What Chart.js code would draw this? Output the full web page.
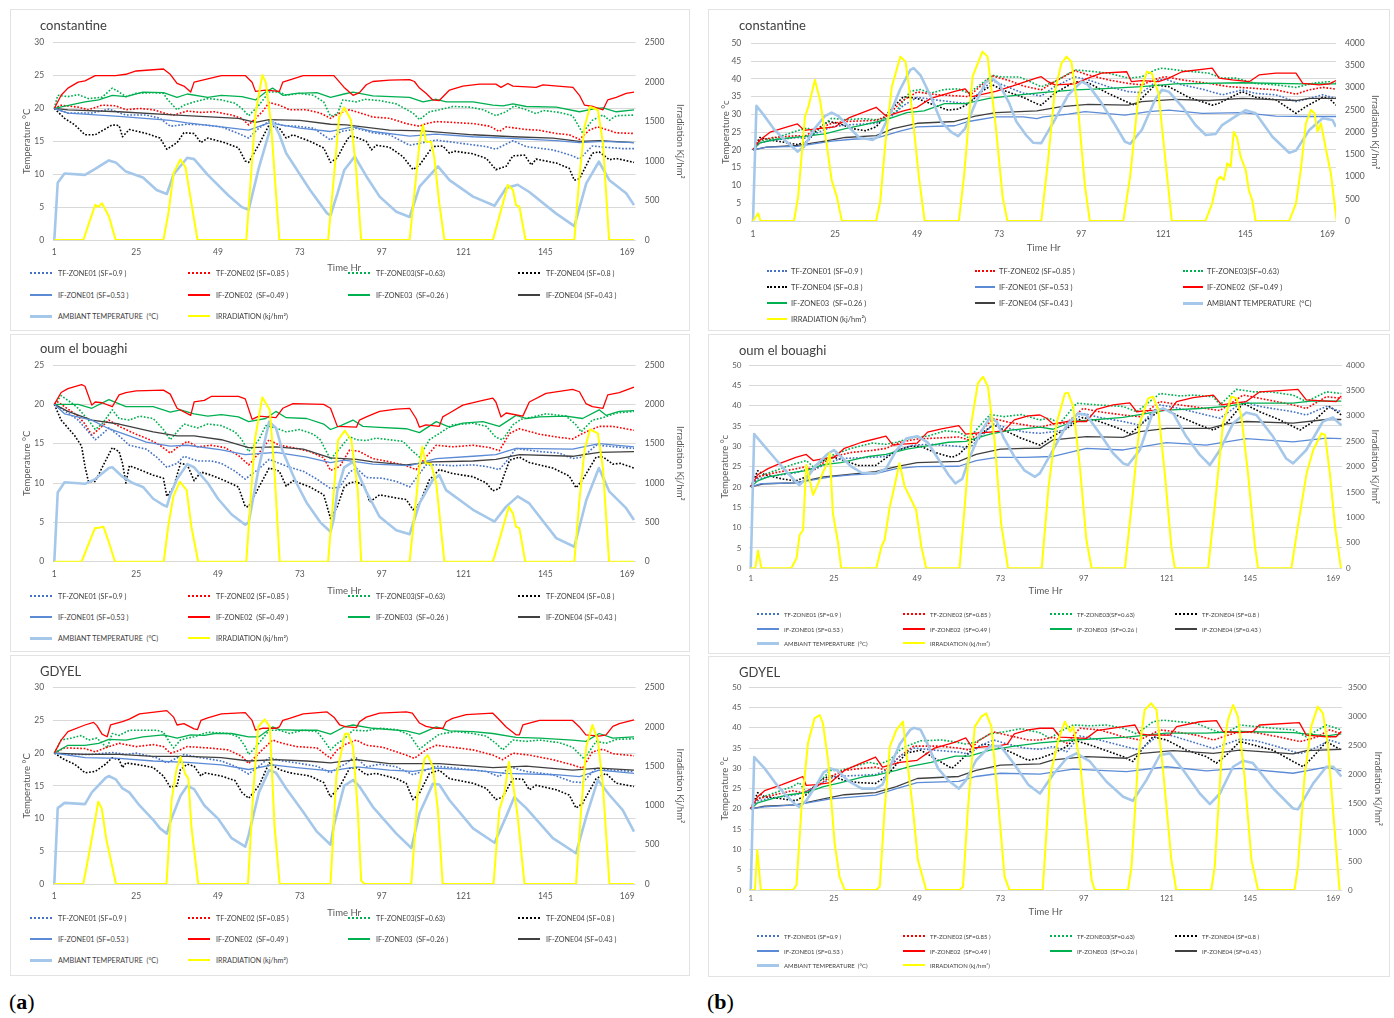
<!DOCTYPE html>
<html><head><meta charset="utf-8">
<script src="https://cdn.jsdelivr.net/npm/chart.js@4.4.1/dist/chart.umd.min.js"></script>
<style>
html,body{margin:0;padding:0;background:#fff;}
body{width:1394px;height:1018px;position:relative;overflow:hidden;font-family:Lato,"Open Sans",sans-serif;}
.box{position:absolute;border:1px solid #e3e3e3;box-sizing:border-box;}
.ttl{position:absolute;font-size:13px;color:#404040;line-height:16px;white-space:nowrap;z-index:3;}
canvas{position:absolute;z-index:2;}
.lg{position:absolute;white-space:pre;color:#404040;display:flex;align-items:center;height:10px;z-index:3;}
.lg i{display:inline-block;height:0;}
.tag{position:absolute;font-family:"Liberation Serif","DejaVu Serif",serif;font-size:22px;color:#000;}
</style></head>
<body>
<div class="tag" style="left:9px;top:989px;">(<b>a</b>)</div>
<div class="tag" style="left:707px;top:989px;">(<b>b</b>)</div>
<script>
// ---------- shared labels ----------
const X_TICKS = [1, 25, 49, 73, 97, 121, 145, 169];
const SERIES_NAMES = ["TF-ZONE01 (SF=0.9 )", "TF-ZONE02 (SF=0.85 )", "TF-ZONE03(SF=0.63)", "TF-ZONE04 (SF=0.8 )",
  "IF-ZONE01 (SF=0.53 )", "IF-ZONE02  (SF=0.49 )", "IF-ZONE03  (SF=0.26 )", "IF-ZONE04 (SF=0.43 )",
  "AMBIANT TEMPERATURE  (°C)", "IRRADIATION (kj/hm²)"];
const PANEL_TITLES = ["constantine", "oum el bouaghi", "GDYEL", "constantine", "oum el bouaghi", "GDYEL"];
const TEMP_MAX = [30, 25, 30, 50, 50, 50];
const IRR_MAX = [2500, 2500, 2500, 4000, 4000, 3500];

// ---------- (a) constantine : [hour, value] ----------
const A1_TF01 = [[1,20],[5,19.3],[12,19.3],[17,19.9],[22,19.0],[28,19.0],[32,18.5],[35,17.3],[40,17.6],[45,17.5],[50,17.2],[55,16.2],[58,15.5],[61,17],[64,18.1],[68,17.4],[72,17.3],[77,17],[82,15.2],[85,16.5],[87.6,16.7],[89.6,17],[94.4,16.3],[99.3,16],[105.2,14.4],[108.1,14.7],[113,15.2],[118.8,14.8],[127.7,14.2],[130.5,13.8],[135.5,15.1],[139.4,14.2],[147.2,13.7],[153,12.8],[155,12.3],[158.8,14.3],[162.8,14.1],[167.7,13.9],[171,13.9]];
const A1_TF02 = [[1,20],[3,20.5],[8,20.2],[11,19.8],[15,20.5],[19,20.4],[22,19.8],[26,20],[30,19.8],[34,19.2],[36,19],[40,19.6],[44,19.4],[48,19.5],[53,19],[56,18.5],[58,17.5],[62,19.5],[64,20.9],[67,20.5],[70,19.8],[75,19.8],[79,19.3],[82,18.5],[84.7,19.3],[87.6,19.8],[91.4,19.2],[94.4,18.7],[99.3,18.5],[104.2,17.7],[108.1,17.3],[110,17.7],[113,18],[117,17.9],[123.8,17.7],[128.7,17.3],[131.5,16.5],[133.5,17.2],[139.4,16.8],[143,16.7],[148.2,16.2],[152,16],[155,15.3],[157.9,16.7],[160.3,17.2],[162.8,16.8],[165.8,16.3],[171,16.2]];
const A1_TF03 = [[1,20],[2,22],[5,21.8],[8,22.1],[11,21.5],[15,21.7],[18,23.1],[20,22.5],[22,21.8],[25,22.3],[30,22.4],[33,22.3],[34,21.5],[37,19.8],[39,20.5],[42,21],[46,21.5],[50,21.3],[54,20.8],[56,20],[58,18.9],[61,20.5],[64,22.5],[67,22.5],[69,22],[73,22.3],[77,22],[80,21],[82,18.8],[84,19.2],[85.6,21.3],[89.6,21],[92,21.4],[96.4,21.2],[101.3,20.7],[106.2,19.3],[108.1,18.3],[111,19.5],[113.9,19.8],[117.9,20.3],[123,20.2],[126.8,19.8],[130.5,18.9],[133.5,19.5],[135.9,20.4],[139.4,19.8],[142.3,19.2],[144.3,19.7],[149.1,19.4],[153,18.9],[155.9,16.3],[158.8,18.2],[161.9,19],[163.8,18.2],[165.8,18.9],[171,19]];
const A1_TF04 = [[1,20],[4,18.5],[7,17.5],[10,16],[13,16],[18,17.5],[20,17.4],[21,15.7],[23,16.8],[28,16.2],[32,15.5],[34,13.8],[37,14.8],[39,16.3],[42,16.2],[44,14.8],[46,15.5],[51,14.8],[55,14],[57,12],[58,11.8],[61,14.5],[64,17.5],[67,17],[69,15.5],[71,16],[76,15],[80,14],[82,11.8],[84,12.5],[86,14.5],[87.6,15.8],[89.6,15.6],[92.5,15],[94,13.7],[95.4,14.4],[99.3,14.1],[103.2,12.7],[106.2,10.7],[108.1,11.4],[112,14.2],[114.9,14.3],[116.9,13.2],[118.5,13.5],[123.8,13.1],[127.7,12.4],[130.5,10.7],[133.5,11.2],[135.5,12.8],[138.9,12.9],[140.9,11.4],[142.3,12.3],[148.2,11.7],[152,10.9],[153.5,9.1],[155,9.3],[158.8,13.2],[160.8,13.4],[163.8,12.2],[165.8,12.4],[171,11.8]];
const A1_IF01 = [[1,20],[5,19.3],[20,18.8],[35,18.2],[40,17.8],[50,17.2],[58,16.7],[64,17.8],[73,17],[82,16.5],[88.6,17.2],[94.4,16.5],[105.2,15.8],[113,16.1],[123.8,15.7],[133.5,15.5],[148.2,15.1],[155,14.8],[161.9,15],[171,14.8]];
const A1_IF02 = [[1,20],[3,22],[5,23.1],[8,24],[10,24.2],[13,25],[19,25],[22,25.2],[25,25.7],[33,26],[35,25.2],[37,23.8],[39,23.4],[41,22.5],[42,24],[46,24.5],[50,25],[57,25],[59,24],[60,22.6],[63,22.8],[67,22.6],[68,24],[71,24.5],[74,25],[83,25],[86,23.2],[88.6,22],[90.5,22.4],[92.5,23.6],[94.4,24.1],[99.3,24.3],[105.2,24.4],[106.6,24.1],[108.1,23.1],[110,22.3],[112,21.3],[113.9,21.2],[116.9,22.8],[120.8,23.4],[125.7,23.7],[130.5,23.7],[132,23.2],[134,23.8],[135.5,23.4],[142.3,23.2],[144.3,23.6],[153.1,23.2],[155,22],[156.5,20.5],[159,20.3],[161.9,19.8],[163.3,21.3],[165.8,21.7],[168.7,22.3],[171,22.5]];
const A1_IF03 = [[1,20],[10,21],[14,21.3],[18,22],[22,21.8],[27,22.5],[33,22.4],[37,21.7],[40,22.2],[46,21.7],[50,22],[56,21.8],[60,21.3],[63,22.5],[65,23.1],[68,22],[72,22.3],[78,22.4],[82,21.7],[86,22.2],[88.6,22.5],[94.4,21.9],[105.2,21.7],[109.1,21],[113,21.4],[116,21],[123.8,21],[129.6,20.5],[132.6,20.4],[135.5,20.7],[139.4,20.3],[148.2,20.2],[155,19.5],[159.9,20],[161.9,20.1],[165.8,19.5],[171,19.8]];
const A1_IF04 = [[1,20],[5,19.8],[20,19.5],[37,19],[55,18.5],[60,17.9],[64,18.3],[73,18.2],[82,17.6],[86.6,17.5],[99.3,16.7],[109,16.6],[123.8,16],[135.5,15.7],[147.2,15.5],[155,15],[160.9,15.1],[171,14.8]];
const A1_AMB = [[1,0],[2,8.7],[4,10.1],[10,9.9],[13,10.8],[17,12.1],[19,11.8],[22,10.4],[27,9.5],[31,7.6],[34,7],[36,10],[40,12.5],[42,12.3],[46,9.9],[52,6.8],[56,5],[58,4.6],[61,11],[65,18.1],[67,16],[69,13.2],[76,7.6],[81,4.05],[82,3.75],[84,7],[86,10.6],[89.1,12.7],[92.5,9.7],[96.4,6.6],[101.3,4.3],[105.2,3.5],[108.1,8.1],[113.5,11.2],[116.9,9.1],[123.8,6.6],[130.1,5.2],[133.5,7.9],[136.9,8.4],[140.3,7.3],[148.1,4.05],[153.5,2.1],[157,8.6],[160.7,11.9],[163.8,9.1],[168.7,7.1],[171,5.3]];
const A1_IRR = [[1,0],[9.5,0],[13,445],[14,420],[15,465],[17,300],[19,0],[33,0],[34.5,350],[36,850],[38,1020],[39.5,920],[40.5,650],[43,0],[57.3,0],[58.5,700],[60,1600],[62,2090],[63,2000],[64.5,1500],[66,600],[67,0],[81.3,0],[83,800],[84.5,1550],[86,1680],[88,1520],[89.5,900],[91,0],[105.2,0],[108.1,1225],[109.1,1457],[110,1245],[111.5,1245],[112.4,1056],[113.9,464],[115.4,0],[129.6,0],[131.5,296],[134,697],[135.5,633],[136.4,443],[137.4,422],[139.2,0],[153.5,0],[155,802],[156.5,1436],[158.1,1689],[160.4,1647],[161.9,1225],[163.7,0],[171,0]];

// ---------- (a) oum el bouaghi ----------
const A2_TF01 = [[1,20],[3,19.5],[8,18],[11,16.5],[13,15.5],[15,16.2],[17,17],[20,16],[23,14.8],[28,14.3],[31,13.3],[34,12],[37,12.5],[39,13.4],[43,12.8],[47,12.8],[50,12.5],[54,11.5],[57,10.5],[61,11.8],[64,13],[67,12.5],[70,12],[74,11.5],[78,10.5],[82,9.3],[84.7,9.5],[87.6,11.4],[89.6,11.9],[92.5,10.7],[97.3,10.6],[101.3,10.2],[105.2,9.5],[110,12.3],[113.9,12.3],[117.8,12.2],[123.8,12.3],[127.7,12.1],[131.5,11.7],[133.5,12.7],[136.4,14.4],[143.3,14],[149.1,13.8],[153,13.1],[155.9,13.3],[159.9,14.8],[162.8,14.7],[171,14.4]];
const A2_TF02 = [[1,20],[2,20.3],[8,18.5],[10,17.5],[12,16.1],[15,17.2],[17,18],[20,17.2],[25,16.2],[29,15.5],[32,14.8],[35,13.8],[37,14.5],[40,15.3],[43,14.6],[47,14.8],[51,14.5],[55,13.5],[58,12.3],[61,13.8],[64,15.5],[67,14.8],[71,14.5],[76,14],[80,13.2],[82,11.6],[84.7,12.1],[87.6,14.2],[90.5,14],[94.4,13.1],[99.3,12.7],[104.2,12.2],[107.1,11.7],[110,13.3],[113,14.8],[117.8,14.6],[123.8,14.8],[128.7,14.5],[131.5,14.1],[134.5,16.3],[137.4,16.9],[143.3,16.2],[149.1,15.8],[153,15.6],[155.9,16.3],[160.8,17.2],[164.8,17.2],[171,16.7]];
const A2_TF03 = [[1,20],[3,21.1],[6,20.2],[8,19.5],[11,18],[13,16.8],[15,17.5],[18,19.3],[20,18.2],[23,18],[26,18.5],[30,18.2],[33,16.8],[35,15.5],[37,16.5],[39,17.5],[43,17],[46,17.5],[50,17.3],[54,16.5],[56,15.5],[58,14],[61,15.5],[63,17.3],[66,17],[69,16.5],[73,16.8],[77,16.2],[79,15.5],[82,13],[84.7,14.4],[87.6,15.9],[89.6,15.5],[92.5,15.4],[95.4,15.7],[99.3,15.5],[103.2,15.3],[106.2,14],[108.1,13.3],[111,15.5],[113.9,16.3],[117.8,17.4],[123.8,17.6],[127.7,17.2],[130.5,15.8],[132.5,15.5],[135.5,17.4],[137.9,18.1],[141.3,18.4],[145.2,18.8],[151.1,18.5],[154,17.4],[155.5,16.5],[158.8,18],[161.9,18.3],[165.8,18.9],[171,19.1]];
const A2_TF04 = [[1,20],[3,18],[7,16],[9,14.7],[10,12.1],[11,10.2],[13,10.2],[16,12.8],[18,14.5],[20,14],[21,12.5],[22,10],[23,12.2],[26,11.7],[30,11],[33,10.6],[34,8.3],[36,9.5],[38,12.5],[40,12.3],[42,10.3],[44,11.4],[47,11],[51,10.3],[55,9.5],[57,7],[58,7],[61,9.5],[64,11.9],[67,11.5],[69,9.6],[71,10.3],[76,9.5],[80,8.5],[82,5.5],[84,7],[86,9.5],[87.6,10],[89.6,10.2],[92,9.5],[93.5,7.6],[96.4,8.5],[101.3,8.1],[104.2,7.9],[106.2,6.6],[108.1,7.4],[111,10.4],[113.9,11.7],[117.8,11.2],[123.8,10.8],[127.7,10],[129.6,9],[131.5,9.3],[134.5,12.9],[137.4,13.3],[140.3,12.6],[147.2,11.9],[152,10.9],[154,9.4],[155.9,10.4],[159.9,13.3],[162,13.3],[164.8,12.4],[167,12.5],[171,11.9]];
const A2_IF01 = [[1,20],[4,18.8],[12,18],[17,16.9],[23,16],[28,15.2],[35,14.7],[40,14.8],[50,14.2],[57,13.6],[66,13.9],[75,13.3],[82,12.6],[86,12.9],[94.4,12.4],[105.2,12.2],[113,13.1],[123.8,13.4],[130.5,13.6],[136.4,14.4],[153,14.3],[160.8,15],[171,14.6]];
const A2_IF02 = [[1,20],[3,21.5],[5,22],[9,22.5],[10,22.3],[12,19.9],[13,20.3],[15,20.2],[18,19.7],[20,21.2],[22,21.5],[25,21.7],[33,21.8],[35,21.3],[37,19.5],[41,18.6],[42,20.3],[45,20.5],[47,21],[55,21],[57,20.7],[59,18.1],[61,18.5],[66,18.3],[68,19.5],[71,20.1],[80,20],[82,19.5],[84,17.2],[89.6,17.1],[90.5,18],[92.5,18.4],[96.4,19.1],[101.3,19.4],[105.2,19.5],[107.1,18.2],[108.1,17.1],[110,17.4],[113.9,17.2],[114.9,18.4],[116.9,18.9],[120.8,19.9],[125.7,20.4],[129.6,20.8],[130.5,20.3],[132,18.4],[133.5,18.9],[138.4,18.5],[140.3,20.3],[145.2,21.4],[153,21.9],[155,21.6],[156.9,20.1],[158.8,19.7],[161.9,19.5],[163.3,21.2],[166.7,21.5],[171,22.2]];
const A2_IF03 = [[1,20],[8,20],[12,19.5],[17,20.6],[22,19.7],[30,19.7],[35,19],[38,19.3],[42,18.8],[46,18.5],[50,18.7],[55,18.4],[58,17.8],[63,18.2],[66,19.1],[69,18.3],[75,18.2],[80,17.5],[82,16.8],[85,17.3],[88.6,18],[91.5,17.2],[95,17.1],[104.2,16.9],[108.1,16.4],[113,17.8],[116.9,17.1],[120.8,17.6],[126.7,17.8],[131.5,17.2],[136.4,18.6],[139.4,18.2],[143.3,18.4],[151.1,18.5],[155.9,18.2],[160.8,19.3],[162.8,18.6],[166.7,19.1],[171,19.2]];
const A2_IF04 = [[1,20],[5,19.1],[12,18],[20,17.5],[30,16.5],[37,16],[42,16],[50,15.5],[58,14.5],[66,14.6],[74,14.3],[82,13.2],[89.6,13],[94.4,12.7],[104.2,12.3],[112,12.7],[123.8,12.8],[130.5,13],[137.4,13.6],[153,13.4],[160.8,13.9],[171,14]];
const A2_AMB = [[1,0],[2,8.8],[4,10.1],[10,9.9],[13,10.5],[17,11.9],[18,12],[21,10.8],[24,10],[27,9.5],[30,8],[33,7.2],[34,7],[35,8.5],[37,10.5],[40,12.4],[42,12],[46,10],[49,8],[53,6],[57,4.7],[58,5],[61,12],[64,17.8],[66,17],[68,14],[72,10],[75,7.5],[79,5],[82,3.8],[83,5.5],[84,9],[86,12],[88.6,12.7],[92.5,8.9],[96.4,5.7],[101.3,4],[105.2,3.5],[108.1,7.4],[112,10.4],[113.9,11],[115.9,9.1],[123.8,6.6],[130.1,5.1],[133.5,7],[136.9,8.3],[140.3,7.4],[148.2,3],[153.5,1.9],[157,7.8],[160.7,11.9],[163.8,8.9],[168.7,6.8],[171,5.3]];
const A2_IRR = [[1,0],[9,0],[12.9,424],[14.4,436],[15.4,445],[16.8,275],[18.8,0],[33.1,0],[34.4,445],[35.9,826],[37.8,1017],[39.8,911],[41.2,445],[43.2,0],[57.3,0],[59.8,1547],[62,2089],[64.2,1928],[65.6,1123],[67.1,0],[81.3,0],[84.2,1547],[86.2,1665],[88.1,1547],[90,911],[91,0],[105.2,0],[108.1,1208],[108.9,1462],[109.9,1250],[111.5,1241],[113,996],[115.4,0],[129.6,0],[131.5,275],[134.3,699],[135.5,614],[136.4,445],[137.4,424],[139.1,0],[153.5,0],[155,784],[156.5,1419],[158.1,1682],[160.4,1631],[161.9,1186],[163.7,0],[171,0]];

// ---------- (a) GDYEL ----------
const A3_TF01 = [[1,20],[5,19.8],[12,19.8],[18,20.1],[22,19.8],[25,20],[31,19.3],[34,18.5],[39,19.8],[44,19.3],[50,18.8],[54,18],[58,16.8],[61,18],[64,19.3],[68,18.8],[72,18.5],[78,18],[82,17],[85,18],[86.6,18.4],[89.1,19.5],[92.5,17.9],[96.4,18.3],[101.3,17.9],[106.2,16.7],[110,17.4],[113,18],[118.8,17.7],[127.7,17.2],[131.5,16.4],[134.5,17.9],[139.4,17.2],[147.2,16.7],[153,15.6],[155.9,15.5],[159.9,17.7],[164.8,17.4],[171,17.2]];
const A3_TF02 = [[1,20],[4,20.8],[10,20.7],[13,20.2],[17,21],[20,21.5],[25,21],[30,21.3],[33,21],[35,20],[37,20.3],[40,21],[46,20.8],[52,20.5],[56,19.5],[58,18.4],[62,20.5],[65,22],[68,21.5],[72,21],[78,20.8],[82,19.2],[84,20.5],[86.6,21.4],[89.6,22],[92.5,21.2],[97.3,20.9],[104.2,19.7],[106.6,19.2],[110,20.5],[113,21.2],[117.8,20.9],[123.8,20.5],[129.6,19.7],[132.5,19],[135.5,20],[140.3,19.7],[147.2,19],[153,18.2],[155.9,17.7],[158.8,20.2],[161.9,20.6],[164.8,19.9],[171,19.6]];
const A3_TF03 = [[1,20],[3,22],[6,22.3],[9,22.7],[11,22],[13.5,22.3],[15,21.5],[16.5,20.8],[18,23],[20,22.7],[23,23.5],[31,23.5],[33,23.2],[35,21.5],[36,20.8],[38,22],[40,22.3],[42,22.5],[46,23.2],[52,23],[55,22.5],[57,21],[58,19.8],[61,21.5],[64,23.5],[67,23.5],[70,23],[74,23.5],[78,23.3],[80,22],[82,20.5],[84,21.5],[85.6,22],[88.6,23.5],[92.5,23.4],[96.4,23.8],[101.3,23.6],[105.2,22.8],[108.1,20.6],[111,21.8],[113.9,22.9],[118.8,23.3],[123.8,23],[127.7,22.6],[130.5,21.5],[132.5,20.5],[135.5,22],[139.4,21.8],[143.3,22],[149.1,21.6],[153,20.9],[156.4,19.1],[159.9,21.8],[162.8,21.5],[165.8,22.1],[171,22.2]];
const A3_TF04 = [[1,20],[4,19],[7,18.3],[10,17],[13,17.2],[16,18.3],[18,19.3],[20,19],[21,17.8],[22,18.5],[26,18.2],[30,17.8],[33,16.5],[35,14.8],[37,15],[38,17.5],[40,18.3],[42,18],[44,16.5],[45,17],[50,16.5],[54,15.8],[56,14],[58,13.1],[61,15],[64,18.5],[67,17.5],[70,17],[76,16.5],[80,15.5],[82,13.3],[84.7,14.9],[87.6,17.7],[89.6,17.8],[92.5,16.7],[95.4,16.9],[101.3,16.1],[104.2,15.4],[106.2,12.9],[108.1,13.9],[111,16.9],[113.9,17.4],[116.9,16.1],[123.8,15.4],[127.7,14.6],[130.5,12.9],[132.5,13.3],[135.5,16.1],[138.4,16],[140.3,14.4],[142.3,15.1],[148.2,14.4],[152,13.6],[154,11.6],[155.9,12.3],[159.9,16.1],[162.8,16.9],[165.8,15.4],[171,14.9]];
const A3_IF01 = [[1,20],[10,19.3],[20,19.2],[30,18.8],[40,18.6],[50,18.2],[58,17.5],[65,18.2],[72,17.8],[82,17.3],[89.6,17.9],[99.3,17.4],[106.2,17.2],[113,17.7],[123.8,17.4],[133.5,16.9],[148.1,16.7],[155,16.4],[160.8,17.4],[171,16.9]];
const A3_IF02 = [[1,20],[3,22],[5,23.3],[10,24.3],[12.5,24.7],[13.5,24.2],[15,22.9],[16.5,22.5],[17.5,24.3],[21,24.8],[23,25.2],[26,26],[34,26.5],[36,25.5],[37,24.3],[39,24.5],[42,23.7],[43,23.6],[44,25],[46,25.4],[50,26],[57,26.2],[59,25],[60,23.5],[62,23.8],[66,23.8],[67,24],[68,25],[70,25.3],[74,26],[81,26.3],[83,25.5],[84.7,24.3],[86.6,24],[89.6,23.9],[90.5,24.8],[92.5,25.5],[96.4,26.1],[104.2,26.3],[106,26.1],[108.1,24.6],[110,24.1],[113,23.8],[115,23.8],[115.9,24.8],[117.8,25.3],[121.8,25.9],[129.6,26.1],[131.5,25.1],[133.5,24],[136.4,22.8],[137.4,22.8],[138.4,24.3],[143.3,25],[153,25],[155,24],[156.9,22.8],[160.8,22.6],[162.8,22.8],[164.8,24.1],[166.7,24.5],[171,25.1]];
const A3_IF03 = [[1,20],[5,21.2],[10,21.2],[14,21.5],[17,22.1],[22,22],[27,22.5],[33,22.8],[37,22.3],[41,22.8],[45,22.7],[48,23],[53,23],[58,22.5],[61,22.5],[65,24],[67,23.6],[72,23.5],[78,23.5],[82,22.9],[86,24],[88.6,24.3],[94.4,23.8],[104.2,23.4],[108.1,22.9],[113,24],[116.9,23.4],[123.8,23.3],[129.6,23],[136.4,22.4],[143.3,22.3],[153,22],[156.9,21.8],[160.8,23],[164.8,22.3],[171,22.5]];
const A3_IF04 = [[1,20],[10,19.8],[20,19.8],[30,19.5],[40,19.5],[50,19.3],[58,18.8],[66,19],[75,18.8],[82,18.5],[89.6,19],[99.3,18.4],[113.9,18.4],[129.6,17.8],[139.4,18],[153,17.4],[160.8,17.7],[171,17.4]];
const A3_AMB = [[1,0],[2,11.6],[4,12.4],[10,12.2],[12,14],[16,16.2],[17,16.5],[19,16],[21,14.6],[23,14],[26,12],[30,9.8],[32,8.5],[34,7.7],[35,9.5],[38,13.5],[40,15],[42,14.5],[45,12],[49,10],[53,7],[57,5.7],[58,7.5],[61,14],[64,17.4],[66,17],[69,14.6],[74,11],[78,8],[82,6],[83,9],[86,15],[88.6,15.9],[90.5,14.9],[94.4,11.8],[101.3,7.7],[105.7,5.5],[108.1,10.8],[112,15.3],[113.9,15.2],[116.9,12.8],[123.8,8.5],[130.1,6.3],[133.5,10.3],[135.9,13.3],[139.4,11.6],[147.2,7],[154,4.7],[157,10.3],[160.4,15.9],[163.8,13.6],[167.7,11.3],[171,8]];
const A3_IRR = [[1,0],[9.5,0],[11.4,433],[13.9,1048],[14.9,963],[16.3,560],[19.1,0],[33.9,0],[35.4,1069],[36.8,1451],[38,1621],[39.3,1409],[40.3,1345],[41.2,730],[43.2,0],[57.8,0],[59.3,1154],[60.8,2003],[62.7,2097],[64.2,2003],[65.6,730],[67.1,0],[82,0],[83.7,1367],[86.2,1910],[87.1,1918],[88.6,1749],[90,942],[91,40],[92,0],[105.7,0],[107.6,1154],[109.6,1600],[110.5,1642],[112,1494],[113.5,942],[114.9,0],[129.8,0],[131.5,942],[133,1154],[134.3,1558],[135.5,1282],[136.9,857],[138.9,0],[154,0],[155.5,942],[157,1749],[158.8,2024],[160.4,1833],[161.9,1239],[163.8,0],[171,0]];

// ---------- (b) constantine ----------
const B1_TF01 = [[1,20],[3,22],[7,22.8],[14,23.5],[16,23.3],[19,24.5],[24,26.5],[28,27],[37,27.5],[41,29],[45,32.5],[49,34.8],[55,34],[61,33.3],[64,33],[67,36],[71,39.5],[76,37.5],[80,36],[85.3,35.2],[89.2,37.8],[95.1,40.6],[99,39.7],[104.9,37.8],[110.8,36.4],[114.7,36.1],[119.6,39.7],[121.6,39.9],[126.5,38.3],[132.4,37.1],[138.2,35.5],[144.1,36.9],[148,35.9],[153.9,35.5],[159.8,33.6],[163.7,34.5],[167.6,35.5],[171.5,34.5]];
const B1_TF02 = [[1,20],[3,22.8],[7,23.5],[14,24],[16,23.8],[19,25.5],[24,27.5],[28,28],[37,28.3],[40,29.5],[45,34],[49,36.3],[55,35.5],[61,35.2],[64,35],[67,37.5],[71,40.8],[76,39.5],[80,38],[85.3,36.9],[89.2,39.2],[95.1,42.3],[99,41.1],[104.9,39.7],[110.8,38.7],[114.7,38.3],[119.6,40.2],[121.6,40.6],[126.5,39.7],[134.3,38.7],[140.2,37.8],[148,37.3],[153.9,36.9],[159.8,35.7],[163.7,36.9],[167.6,37.6],[171.5,37.1]];
const B1_TF03 = [[1,20],[3,22.5],[8,23.5],[14,25.4],[17,26.2],[19,24.5],[21,26.5],[24,28.9],[28,28.5],[33,28.8],[37,28.5],[40,28.9],[43,31],[47,36.5],[50,37],[53,36],[57,37],[61,37.2],[64,36],[67,38],[71,41],[74,40.5],[79,40.5],[85.3,37.8],[89.2,39.2],[95.1,42.5],[99,42.2],[104.9,41.6],[110.8,40.2],[114.7,40.6],[118.6,42.5],[120.6,43],[126.5,42.3],[134.3,41.6],[138.2,40.2],[142.2,40.2],[148,38.7],[153.9,38.3],[159.8,37.6],[165.6,38.9],[169.6,39.2],[171.5,38.7]];
const B1_TF04 = [[1,20],[3,23.5],[6,22.8],[11,22],[14,21.5],[17,22.5],[20,26],[23,28],[26,27.5],[30,26],[34,25.4],[37,26.5],[41,31],[45,35],[49,34.5],[53,33],[58,31.2],[61,31.5],[64,33],[68,36.5],[71,38.3],[75,36.5],[80,34.8],[84,33],[85.3,32.6],[89.2,35.9],[95.1,39.2],[99,38.9],[104.9,35.9],[110.8,33.3],[112.7,32.6],[118.6,38.3],[122.6,37.8],[128.4,34.8],[135.3,32.6],[137,33],[144.1,36.4],[148,34.8],[153.9,34.1],[159.8,30.3],[162.7,32.2],[167.6,34.8],[169.5,34.5],[171.5,32.6]];
const B1_IF01 = [[1,20],[5,20.8],[14,21],[24,22.5],[30,23],[37,23.3],[44,25.3],[49,26.5],[60,26.8],[64,28],[72,29.3],[80,29.3],[84,28.8],[86,29.3],[93.2,30.1],[98.1,30.8],[109.8,29.8],[116.7,30.8],[122.6,31.2],[132.4,30.3],[144.1,30.5],[153.9,29.5],[163.7,29.4],[171.5,29.4]];
const B1_IF02 = [[1,20],[3,22.8],[6,25],[11,26.5],[14,27.3],[16,25.5],[20,26],[25,26.5],[29,29],[33,30.5],[37,32],[40,29.5],[45,31],[49,32],[53,34.5],[60,36.5],[63,37.2],[65,35],[72,36.5],[77,38],[84,40.3],[85.3,40.6],[87.3,39.2],[89.3,38.3],[95.1,38.6],[99,40.2],[102.9,41.6],[110.3,42],[111.7,39.2],[114.7,39.5],[119.6,39.2],[122.6,40.2],[126.5,42],[135.3,43],[137.3,40.2],[141.2,39.7],[146.1,39.2],[149,41.1],[153.9,41.6],[159.8,41.6],[161.8,38.7],[166.6,38.3],[169.6,38.6],[171.5,39.5]];
const B1_IF03 = [[1,20],[3,22],[8,23],[16,23.8],[22,24.5],[28,26],[33,27],[40,28.5],[46,30.5],[51,31],[57,33],[63,33],[70,34.5],[79,35.5],[85.3,36.1],[95.1,36.9],[101,37.1],[114.7,37.8],[124.5,38.6],[144.1,38.9],[161.8,38.6],[171.5,38.6]];
const B1_IF04 = [[1,20],[5,20.8],[14,21.3],[22,22.5],[28,23.5],[37,24],[42,26],[49,27.5],[60,28],[66,29.5],[72,30.5],[84,31],[85.3,31.2],[91.2,32.2],[99,32.8],[110.8,32.6],[114.7,33.6],[124.5,34.2],[134.3,33.9],[144.1,34.5],[159.8,33.9],[163.7,34.5],[171.5,34.5]];
const B1_AMB = [[1,0],[2,32.4],[4,30],[7,26],[10,23],[13,20.5],[14,19.5],[16,21],[19,26],[22,29.5],[24,30.5],[26,29.5],[29,26.5],[32,23.5],[36,22.8],[38,24],[41,30],[44,37],[47,42.5],[48,43],[50,41],[53,35],[56,28],[59,25],[61,23.9],[63,26],[66,33],[69,39],[71,40.1],[73,38.5],[76,33],[78,28],[81,24],[83,22],[85.3,21.9],[89.2,28.4],[93.2,35.5],[97.1,39.2],[99,38.3],[103,33.1],[106.9,27],[109.8,22.3],[111.3,21.7],[114.7,25.6],[118.6,34.1],[120.6,36.9],[122.6,36.4],[126.5,32.2],[130.4,27],[133.4,24.2],[136.3,24.5],[138.2,27],[142.2,29.5],[145.1,31.2],[148,30.3],[152.9,23.7],[157.8,19.2],[159.8,19.8],[163.7,25.6],[167.6,28.9],[170.5,28.4],[171.5,26.5]];
const B1_IRR = [[1,0],[2.5,173],[3.2,0],[13,0],[14.2,548],[16.2,2349],[17.2,2574],[19.1,3175],[20.6,2724],[22.5,1749],[24,923],[25.5,548],[27,0],[37,0],[38.2,435],[39.7,1749],[41.6,3024],[44.1,3700],[45.6,3587],[47.5,2499],[49.5,998],[51.2,0],[61.2,0],[62.7,998],[65.2,3250],[68.1,3813],[69.6,3700],[72,2124],[74,548],[75.4,0],[85.3,0],[87.3,1373],[89.2,2874],[91.2,3550],[92.7,3700],[94.1,3587],[96.1,2499],[98.1,773],[99.5,0],[109.3,0],[111.3,998],[113.7,2799],[116.2,3362],[117.6,3325],[119.6,2874],[121.6,1373],[123.5,0],[133.3,0],[135.3,398],[136.8,923],[137.7,998],[138.7,923],[139.7,1298],[140.7,1223],[141.6,2011],[142.6,1861],[143.6,1448],[145.1,1148],[146,698],[147,473],[148,0],[157.8,0],[159.8,398],[161.2,1148],[162.7,2199],[164.2,2499],[165.2,2424],[166.1,2011],[167.1,2199],[168.6,1599],[170,1073],[171.7,0]];

// ---------- (b) oum el bouaghi ----------
const B2_TF01 = [[1,20],[3,22],[8,22.8],[14,23.5],[17,24.3],[20,24.5],[23,25.8],[27,27],[36,27.3],[40,27.5],[43,29],[48,30.3],[53,30.5],[56,30.3],[61,30],[64,29.5],[67,32],[71,35.5],[75,34.5],[80,33.5],[84.4,33.2],[88.2,33.6],[91.1,33.9],[96.8,38.1],[101.6,37.1],[108.4,36.1],[113.2,35.2],[119,40.2],[124.7,39.3],[132.4,37.7],[136.3,36.9],[143,41],[147.8,39.8],[157.4,38.5],[161.2,37.7],[167,39.8],[171.3,38.5]];
const B2_TF02 = [[1,20],[3,22.5],[8,23.5],[13,24.3],[17,25],[19,24],[22,26],[25,27.5],[30,28.5],[36,29],[40,29.5],[44,31],[49,31.8],[54,32],[61,32.3],[64,31.5],[67,33.5],[71,36.8],[76,35.8],[82,35],[84.4,34.7],[88.2,35.5],[92.1,35.7],[96.8,39.3],[101.6,38.5],[108.4,37.7],[113.2,37.3],[119,41],[124.7,40.2],[132.4,39.3],[136.3,38.8],[143,42.6],[147.8,41.8],[157.4,40.2],[161.2,39.3],[167,42.2],[171.3,41.8]];
const B2_TF03 = [[1,20],[3,22.5],[8,24],[13,25.5],[17,26.5],[19,25],[22,26.5],[25,28],[30,29.5],[36,30.8],[40,30.5],[43,31],[48,32.2],[52,32.5],[57,33.8],[61,33.5],[64,32],[67,35],[70,37.8],[74,37.3],[79,37.8],[84.4,36.5],[87,36.9],[90.2,35.7],[95,40.6],[100.7,40.2],[108.4,39.8],[112.3,38.5],[119,43],[124.7,42.4],[128.6,42.6],[134.4,42.2],[136.3,40.2],[141,44],[146,43.4],[150.7,43.4],[157.4,42.6],[161.2,41],[167,43.4],[171.3,43]];
const B2_TF04 = [[1,20],[3,24],[5,23],[10,22],[14,21.5],[17,22.5],[20,25.5],[23,27],[25,27.3],[28,26.5],[32,25.3],[37,25.3],[39,26.5],[43,29],[47,30],[50,30],[54,28.5],[59,27.3],[61,28],[64,30.5],[68,33.5],[71,35.3],[74,34],[79,32],[84.4,30.3],[88.2,32.5],[92.1,34.4],[96.8,37.1],[101.6,36.1],[108.4,34],[110.3,33],[115.1,36.5],[119.9,39.3],[124.7,37.3],[130.5,35.2],[134.4,34],[138.2,35.7],[143,40.6],[147.8,38.5],[153.6,36.5],[159.4,34],[163.2,36.1],[167.9,39.8],[171.3,37.7]];
const B2_IF01 = [[1,20],[4,20.8],[14,21],[24,22.5],[30,23],[37,23.3],[43,24.5],[49,25],[61,25.1],[66,26.5],[72,27.3],[80,27.3],[88.2,27.5],[97.8,29.5],[108.4,29.1],[120.9,30.9],[132.4,30.3],[143.9,31.9],[157.4,31.1],[167,32],[171.3,31.9]];
const B2_IF02 = [[1,20],[3,23],[6,24.5],[10,26],[14,27.3],[17,28],[19,26.5],[22,27],[25,27.2],[28,29.5],[33,31],[40,32.5],[42,30.3],[44,30.5],[49,30.8],[52,33.5],[56,34.3],[61,35.1],[63,33],[65,33.2],[70,33.5],[74,33.8],[77,36.5],[81,37.5],[84.4,37.7],[86.3,36.9],[88.2,35.5],[92.1,36.1],[97.8,36.1],[100.7,39.1],[105.5,40.2],[110.3,40.7],[112.3,38.5],[115.1,38.8],[121.9,38.9],[123.8,41],[128.6,42],[134.4,42.6],[136.8,40.2],[140.2,40.6],[143.9,41],[147.8,43.4],[153.6,43.7],[158.8,44],[161.2,41.4],[166,41.2],[169.8,41],[171.3,42.4]];
const B2_IF03 = [[1,20],[3,21.5],[6,22.5],[11,23.3],[17,24],[22,25.5],[27,26],[35,27.5],[40,28],[46,29.3],[51,30],[58,31],[63,31.2],[70,33],[76,34],[84.4,34.7],[88.2,34.2],[94,36.1],[108.4,37.1],[120.9,38.9],[130.5,39.3],[138.2,39.8],[143.9,40.6],[157.4,40.6],[163.1,41.2],[171.3,41.1]];
const B2_IF04 = [[1,20],[5,20.8],[14,21],[22,22.5],[28,23],[37,23.8],[43,25],[49,26],[61,26.3],[66,28],[73,29.3],[80,29.5],[84.4,29.5],[88.2,31.6],[97.8,32.4],[108.4,32.2],[113.2,33.6],[120.9,34.4],[133.4,34.4],[138.2,35.5],[143.9,36.1],[157.4,35.7],[167,36.6],[171.3,36.6]];
const B2_AMB = [[1,0],[2,33],[5,30],[8,27],[11,24],[14,21.3],[15,20.5],[17,22],[20,25.5],[23,28],[25,29.1],[27,27.5],[30,25],[33,23.5],[37,23.3],[40,24.5],[43,29],[46,32],[49,32.5],[52,31],[55,27],[58,23],[60,20.9],[62,22],[64,27],[67,33],[70,37.1],[72,36],[74,32],[77,27.5],[80,24],[83,22.5],[84.4,23.4],[88.2,29.1],[92.1,35.2],[95.4,38.1],[97.8,37.7],[101.6,33.2],[105.5,28.3],[108.4,25.8],[109.8,25.4],[113.2,29.1],[117,38.5],[119.9,39.3],[122.8,38.1],[126.6,32.4],[130.5,27.9],[133.4,25.4],[136.3,29.1],[140.1,35.7],[143.9,38.3],[146.8,37.7],[151.6,32.4],[155.4,27],[157.4,25.8],[161.2,29.1],[166,36.1],[168.9,37.1],[171.3,35.2]];
const B2_IRR = [[1,0],[2.3,0],[3.1,348],[4.1,0],[12.7,0],[14.2,197],[15.1,656],[16.1,754],[17,2033],[19,1443],[20.9,1738],[21.8,1882],[22.8,2033],[23.8,2262],[24.7,1082],[26.2,492],[27.1,0],[37.2,0],[38.7,426],[39.6,557],[41.1,1213],[42,1475],[43.9,2066],[45.4,1606],[47.3,1344],[48.7,1147],[50.2,426],[51.6,0],[61.2,0],[62.7,1213],[64.6,2852],[66.5,3639],[68,3770],[69.4,3574],[71.3,2524],[73.2,885],[75.2,0],[84.9,0],[86.8,1541],[89.2,2852],[91.6,3442],[92.5,3456],[94,3180],[95.9,2000],[97.8,557],[99.3,0],[108.9,0],[110.8,1213],[113.2,2852],[115.6,3344],[117,3377],[118.5,3115],[120.4,1869],[122.3,426],[123.3,0],[132.9,0],[134.8,1213],[137.2,2852],[139.6,3377],[141.1,3344],[142.5,2983],[144.4,1869],[146.4,426],[147.3,0],[156.9,0],[158.9,885],[161.3,1869],[163.2,2328],[165.6,2656],[166.6,2623],[168,1869],[169.5,820],[171.2,0]];

// ---------- (b) GDYEL ----------
const B3_TF01 = [[1,20],[3,22],[8,22.8],[14,23.5],[17,24.3],[21,26],[25,28],[33,28.3],[37,28.5],[40,29.5],[44,33],[48,35],[54,34.5],[61,34],[64,33.5],[67,35.5],[71,37],[75,36],[80,35],[84.4,34.7],[88.2,35.4],[92.1,34.1],[95.9,38],[101.6,37],[108.4,35.5],[113.2,34.5],[119,38.5],[122.8,38],[129.5,36.2],[134.4,34.9],[142,37.2],[146.8,36.8],[153.6,35.2],[159.4,33.6],[164.2,35.2],[168,37],[171.3,36]];
const B3_TF02 = [[1,20],[3,22.5],[8,23.5],[13,24.5],[16,24],[20,25.5],[24,28],[28,29.5],[33,30],[37,30.3],[40,29.5],[44,33],[48,35.5],[55,35.5],[61,35],[64,34.5],[67,37],[71,39],[76,38],[81,37],[84.4,37],[88.2,37.7],[92.1,36.2],[95.9,39.9],[101.6,39.5],[108.4,37.8],[113.2,37],[119,39.5],[122.8,39.1],[129.5,38.2],[134.4,37],[142,39.1],[146.8,38.8],[153.6,37.7],[159.4,36.6],[164.2,37.7],[168,39.5],[171.3,38.5]];
const B3_TF03 = [[1,20],[3,22.5],[8,24],[13,25.5],[15,26.5],[17,24],[20,26],[24,29.5],[27,29.5],[31,30.5],[35,31.5],[38,31],[41,32],[44,34.5],[46,35.5],[50,36.8],[56,37],[60,36.5],[63,36],[66,36.5],[70,38.5],[74,39],[79,39.8],[84.4,38.8],[87.3,37.4],[90.2,39.1],[94,40.7],[98.8,40.5],[103.6,40.7],[108.4,39.9],[112.3,38.5],[117,41.5],[119.9,41.9],[124.7,41.5],[129.5,41.1],[135.3,39.1],[138.2,38.8],[142,40.7],[146.8,40.3],[151.6,39.9],[157.4,39.5],[161.2,37.8],[167,40.7],[171.3,39.5]];
const B3_TF04 = [[1,20],[3,24],[5,23],[10,22.5],[14,22],[17,23.5],[21,27],[24,28.3],[28,27],[32,26.5],[37,26.3],[40,28],[43,31],[46,33.8],[50,34.5],[53,33],[59,30],[61,31.5],[64,34],[68,36],[72,35.5],[76,34],[81,32],[84.4,32.5],[88.2,33.7],[92.1,35.4],[94,37],[98.8,35.8],[108.4,32.9],[111.2,31.7],[114.1,35],[117,37.8],[120.9,37],[126.6,34.5],[132.4,32.9],[135.3,31.3],[138.2,33.3],[142,36.6],[144,36.2],[151.6,34.5],[157.4,31.7],[160.3,30.4],[163.2,32.9],[167,36.6],[171.3,34.5]];
const B3_IF01 = [[1,20],[5,20.5],[14,21],[24,22.5],[37,23.4],[43,25],[49,26.5],[61,26.8],[66,28],[73,28.8],[84.4,28.6],[94,29.8],[109.4,29.2],[120.9,30.4],[132.4,29.4],[142,30],[157.4,28.8],[167,30.3],[171.3,29.4]];
const B3_IF02 = [[1,20],[3,23],[5,24.5],[10,26],[14,27.3],[16,28],[17,25.8],[20,26],[24,26.5],[28,29.5],[32,31],[37,32.8],[39,30.3],[44,31.5],[49,32],[54,35],[60,36.5],[63,37.5],[65,35],[68,35.3],[72,35.5],[75,36],[77,38.5],[81,39.5],[84.4,39.9],[88.2,39.9],[90.2,37.7],[97.8,37.4],[100.7,39.3],[108.4,40.3],[111.8,40.7],[113.2,38.5],[116.1,38.2],[121.9,38.2],[123.8,40.3],[130.5,41.5],[135.3,41.8],[137.2,39.1],[142,38.8],[145.8,39.1],[147.7,40.7],[159.2,41.3],[161.2,38.2],[167,37.8],[169.8,37.8],[171.3,39.1]];
const B3_IF03 = [[1,20],[3,21.5],[7,22.5],[12,23.5],[17,24],[22,25.5],[27,26.5],[34,28],[37,28.3],[43,29.5],[47,30.5],[53,31.5],[60,33],[64,33],[70,34.5],[77,35.5],[84.4,36.3],[94,37],[109.4,37.7],[120.9,38.7],[132.4,38.7],[142,39.1],[157.4,38.8],[167,38],[171.3,38.5]];
const B3_IF04 = [[1,20],[5,20.7],[14,21],[22,22.5],[28,23.5],[37,24],[43,25.5],[49,27.5],[61,28],[66,29.5],[73,30.8],[84.4,31.1],[88.2,32.1],[97.8,32.9],[109.4,32.5],[112.3,33.6],[122.8,34.4],[134.4,33.7],[142,34.5],[157.4,33.6],[161.2,34.4],[171.3,34.7]];
const B3_AMB = [[1,0],[2,32.8],[5,30],[8,26.5],[11,23.5],[14,21],[15,20.5],[17,22],[20,26],[22,29],[24,30],[26,29.5],[29,27],[33,25],[37,25],[39,26],[41,30],[44,36],[47,39.5],[48,40],[50,39.5],[52,36],[55,30],[58,27],[61,25],[63,27],[66,32],[70,35.5],[73,35.5],[77,31],[81,26],[84.4,23.8],[88.2,28.5],[92.1,32.5],[94.9,33.7],[98.8,31.7],[103.6,26.7],[108.4,23],[111.2,22],[115.1,27.1],[119,33.3],[121.9,33.7],[125.7,29.6],[130.5,23.8],[133.4,21.2],[136.3,23.8],[140.1,30.4],[143,31.9],[145.8,31.3],[151.6,25.1],[157.4,20.1],[158.8,19.9],[163.2,26.3],[167,30.4],[169,30.4],[171.3,28]];
const B3_IRR = [[1,0],[2.2,0],[2.9,691],[3.9,0],[13.2,0],[14.2,86],[15.6,1382],[17.5,2533],[19.4,2965],[20.9,3022],[21.8,2879],[23.3,2245],[25.2,806],[26.6,230],[28.1,0],[37.2,0],[38.2,58],[39.6,1382],[41.1,2476],[43,2763],[44.9,2907],[46.3,2130],[47.8,1382],[49.2,518],[51.6,0],[61.2,0],[62.2,50],[63.6,1382],[65.6,2821],[67.5,2994],[68.9,3051],[70.4,2821],[72.3,1554],[74.2,230],[75.6,0],[85.2,0],[87.3,1957],[89.7,2591],[91.6,2907],[93.1,2734],[94,2821],[95.9,2245],[97.8,1094],[99.3,173],[100.2,0],[109.8,0],[110.8,403],[112.7,2245],[114.6,3109],[116.5,3224],[118,3109],[119.9,2072],[122.3,518],[123.7,0],[133.8,0],[134.8,403],[136.7,2245],[138.6,2936],[140.1,3195],[141.5,2994],[143.4,1957],[145.4,518],[147.3,0],[157.8,0],[158.8,403],[160.7,1957],[162.6,2821],[164.5,3166],[166,3051],[167.4,2533],[169.3,1094],[170.8,0]];

const PANEL_SERIES = [
  [A1_TF01, A1_TF02, A1_TF03, A1_TF04, A1_IF01, A1_IF02, A1_IF03, A1_IF04, A1_AMB, A1_IRR],
  [A2_TF01, A2_TF02, A2_TF03, A2_TF04, A2_IF01, A2_IF02, A2_IF03, A2_IF04, A2_AMB, A2_IRR],
  [A3_TF01, A3_TF02, A3_TF03, A3_TF04, A3_IF01, A3_IF02, A3_IF03, A3_IF04, A3_AMB, A3_IRR],
  [B1_TF01, B1_TF02, B1_TF03, B1_TF04, B1_IF01, B1_IF02, B1_IF03, B1_IF04, B1_AMB, B1_IRR],
  [B2_TF01, B2_TF02, B2_TF03, B2_TF04, B2_IF01, B2_IF02, B2_IF03, B2_IF04, B2_AMB, B2_IRR],
  [B3_TF01, B3_TF02, B3_TF03, B3_TF04, B3_IF01, B3_IF02, B3_IF03, B3_IF04, B3_AMB, B3_IRR]
];

// ---------- styling / layout ----------
const STYLE = [
  {c:'#4472C4', dot:true,  w:1.6, o:4},
  {c:'#FF0000', dot:true,  w:1.6, o:4},
  {c:'#00B050', dot:true,  w:1.6, o:4},
  {c:'#000000', dot:true,  w:1.6, o:4},
  {c:'#5B8BD6', dot:false, w:1.3, o:3},
  {c:'#FF0000', dot:false, w:1.3, o:3},
  {c:'#00B050', dot:false, w:1.3, o:3},
  {c:'#404040', dot:false, w:1.3, o:3},
  {c:'#A5C8EA', dot:false, w:2.6, o:2},
  {c:'#FFFF00', dot:false, w:2.0, o:1}
];

const LAYOUT = [
  {box:[10,9,680,322], title:[40,17], cv:[10,10,680,266], plot:[52.6,635.7,42.7,240],
   yTitle:'Temperature °C', tk:8.5, xPad:7, yPad:8.5, rPad:9, yTP:11, rTP:4, xTP:2, axF:9.5,
   lg:{cols:[30,188,348,518], rows:[273,295,316], ncol:4, sw:22, gap:6, fs:7.2}},
  {box:[10,334,680,318], title:[40,340], cv:[10,333,680,266], plot:[52.6,635.7,365,561.7],
   yTitle:'Temperature °C', tk:8.5, xPad:7, yPad:8.5, rPad:9, yTP:11, rTP:4, xTP:2, axF:9.5,
   lg:{cols:[30,188,348,518], rows:[596,617,638], ncol:4, sw:22, gap:6, fs:7.2}},
  {box:[10,655,680,321], title:[40,663], cv:[10,655,680,266], plot:[52.6,635.7,687.7,884],
   yTitle:'Temperature °C', tk:8.5, xPad:7, yPad:8.5, rPad:9, yTP:11, rTP:4, xTP:2, axF:9.5,
   lg:{cols:[30,188,348,518], rows:[918,939,960], ncol:4, sw:22, gap:6, fs:7.2}},
  {box:[708,9,682,322], title:[739,17], cv:[708,10,682,250], plot:[751.3,1336,43.3,221],
   yTitle:'Temperature °c', tk:8.5, xPad:8, yPad:10, rPad:9, yTP:12, rTP:9, xTP:6, axF:9.5,
   lg:{cols:[767,975,1183], rows:[271,287,303,319], ncol:3, sw:20, gap:4, fs:7.5}},
  {box:[708,334,682,320], title:[739,342], cv:[708,340,682,262], plot:[749,1342,365,568.3],
   yTitle:'Temperature °c', tk:8, xPad:5, yPad:7.5, rPad:4, yTP:11, rTP:9, xTP:5.5, axF:9.5,
   lg:{cols:[757,903,1050,1175], rows:[614,629,643], ncol:4, sw:22, gap:5, fs:6}},
  {box:[708,656,682,321], title:[739,664], cv:[708,662,682,262], plot:[749,1342,687.3,890],
   yTitle:'Temperature °c', tk:8, xPad:4, yPad:7.5, rPad:6, yTP:11, rTP:6, xTP:6, axF:9.5,
   lg:{cols:[757,903,1050,1175], rows:[936,951,965], ncol:4, sw:22, gap:5, fs:6}}
];

Chart.defaults.font.family = 'Lato, "Open Sans", sans-serif';
const TICK_COLOR = '#595959';
const AX_COLOR = '#595959';
const plainNum = (v) => String(v);

function el(tag, cls, css, txt){
  const e = document.createElement(tag);
  if (cls) e.className = cls;
  if (css) e.style.cssText = css;
  if (txt !== undefined) e.textContent = txt;
  document.body.appendChild(e);
  return e;
}

LAYOUT.forEach((L, p) => {
  el('div', 'box', `left:${L.box[0]}px;top:${L.box[1]}px;width:${L.box[2]}px;height:${L.box[3]}px;`);
  el('div', 'ttl', `left:${L.title[0]}px;top:${L.title[1]}px;`, PANEL_TITLES[p]);

  const [cx, cy, W, H] = L.cv;
  const [pl, pr, pt, pb] = L.plot;
  const yW = pl - cx, rW = cx + W - pr, padTop = pt - cy, xH = cy + H - pb;
  const cvs = document.createElement('canvas');
  cvs.width = W; cvs.height = H;
  cvs.style.cssText = `left:${cx}px;top:${cy}px;width:${W}px;height:${H}px;`;
  document.body.appendChild(cvs);

  const datasets = PANEL_SERIES[p].map((arr, i) => {
    const s = STYLE[i];
    return {
      label: SERIES_NAMES[i],
      data: arr.map(([x, y]) => ({x, y})),
      borderColor: s.c,
      backgroundColor: s.c,
      borderWidth: s.w,
      borderDash: s.dot ? [1.7, 1.7] : [],
      borderCapStyle: 'butt',
      borderJoinStyle: 'round',
      pointRadius: 0,
      tension: 0,
      fill: false,
      order: s.o,
      yAxisID: i === 9 ? 'y1' : 'y'
    };
  });

  const tickFont = {size: L.tk};
  const axFont = {size: L.axF};
  new Chart(cvs.getContext('2d'), {
    type: 'line',
    data: {datasets},
    options: {
      responsive: false, animation: false, devicePixelRatio: 1,
      layout: {padding: {top: padTop, left: 0, right: 0, bottom: 0}},
      plugins: {legend: {display: false}, tooltip: {enabled: false}, title: {display: false}},
      scales: {
        x: {
          type: 'linear', min: 0.5, max: 171.5,
          afterBuildTicks: (s) => { s.ticks = X_TICKS.map(v => ({value: v})); },
          afterFit: (s) => { s.height = xH; },
          grid: {display: false, drawTicks: false}, border: {display: false},
          ticks: {font: tickFont, color: TICK_COLOR, padding: L.xPad, maxRotation: 0, autoSkip: false, callback: plainNum},
          title: {display: true, text: 'Time Hr', font: axFont, color: AX_COLOR, padding: {top: 0, bottom: L.xTP}}
        },
        y: {
          position: 'left', min: 0, max: TEMP_MAX[p],
          afterFit: (s) => { s.width = yW; },
          grid: {color: '#D9D9D9', lineWidth: 1, drawTicks: false}, border: {display: false},
          ticks: {stepSize: 5, font: tickFont, color: TICK_COLOR, padding: L.yPad, callback: plainNum},
          title: {display: true, text: L.yTitle, font: axFont, color: AX_COLOR, padding: {top: L.yTP, bottom: 0}}
        },
        y1: {
          position: 'right', min: 0, max: IRR_MAX[p],
          afterFit: (s) => { s.width = rW; },
          grid: {display: false, drawTicks: false}, border: {display: false},
          ticks: {stepSize: 500, font: tickFont, color: TICK_COLOR, padding: L.rPad, callback: plainNum},
          title: {display: true, text: 'Irradiation Kj/hm²', font: axFont, color: AX_COLOR, padding: {top: L.rTP, bottom: 0}}
        }
      }
    }
  });

  // HTML legend laid out as a grid like the original
  const g = L.lg;
  SERIES_NAMES.forEach((name, i) => {
    const r = Math.floor(i / g.ncol), c = i % g.ncol;
    const s = STYLE[i];
    const x = g.cols[c], y = g.rows[r];
    const item = el('div', 'lg', `left:${x}px;top:${y - 5}px;font-size:${g.fs}px;`);
    const sw = document.createElement('i');
    const bw = i === 8 ? 3 : 2;
    sw.style.cssText = `width:${g.sw}px;border-top:${bw}px ${s.dot ? 'dotted' : 'solid'} ${s.c};margin-right:${g.gap}px;`;
    item.appendChild(sw);
    item.appendChild(document.createTextNode(name));
  });
});
</script>
</body></html>
